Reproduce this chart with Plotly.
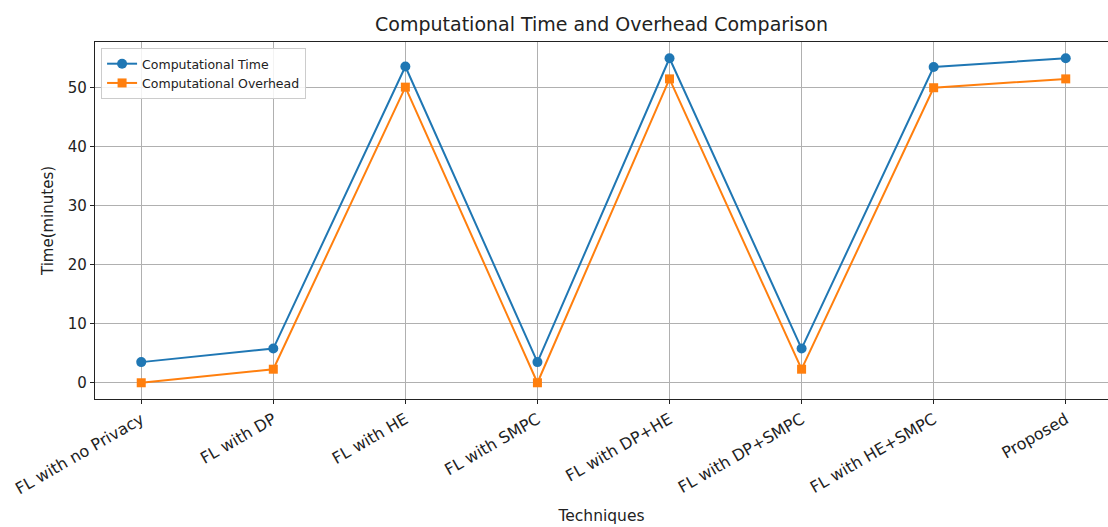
import plotly.graph_objects as go

techniques = ["FL with no Privacy", "FL with DP", "FL with HE", "FL with SMPC",
              "FL with DP+HE", "FL with DP+SMPC", "FL with HE+SMPC", "Proposed"]
comp_time = [3.5, 5.8, 53.6, 3.5, 55.0, 5.8, 53.5, 55.0]
comp_overhead = [0.0, 2.3, 50.1, 0.0, 51.5, 2.3, 50.0, 51.5]
y_ticks = [0, 10, 20, 30, 40, 50]

FONT = "DejaVu Sans"
TXT = "#222222"
x_idx = list(range(len(techniques)))

fig = go.Figure()
fig.add_trace(go.Scatter(
    x=x_idx, y=comp_time, mode="lines+markers", name="Computational Time",
    line=dict(color="#1f77b4", width=2),
    marker=dict(symbol="circle", size=10, color="#1f77b4"),
))
fig.add_trace(go.Scatter(
    x=x_idx, y=comp_overhead, mode="lines+markers", name="Computational Overhead",
    line=dict(color="#ff7f0e", width=2),
    marker=dict(symbol="square", size=9, color="#ff7f0e"),
))

fig.update_layout(
    width=1108, height=527,
    margin=dict(l=95, r=0, t=42, b=128),
    paper_bgcolor="white", plot_bgcolor="white",
    font=dict(family=FONT, color=TXT, size=15),
    title=dict(text="Computational Time and Overhead Comparison",
               xref="paper", x=0.5, xanchor="center", y=0.953, yanchor="middle",
               font=dict(size=19, family=FONT, color=TXT)),
    legend=dict(x=0.006, y=0.983, xanchor="left", yanchor="top",
                bgcolor="rgba(255,255,255,0.85)", bordercolor="#cccccc", borderwidth=1,
                font=dict(size=12.5, family=FONT, color=TXT),
                tracegroupgap=0, itemwidth=30),
    showlegend=True,
)

fig.update_xaxes(
    range=[-0.35, 7.32],
    tickmode="array", tickvals=x_idx, ticktext=techniques,
    tickangle=-30, ticks="outside", ticklen=4, tickcolor=TXT,
    showgrid=True, gridcolor="#b0b0b0", gridwidth=1,
    showline=True, linecolor=TXT, linewidth=1.2, mirror=True,
    zeroline=False,
    tickfont=dict(size=16, family=FONT, color=TXT),
    title=dict(text="Techniques", font=dict(size=15.5, family=FONT, color=TXT), standoff=12),
)
fig.update_yaxes(
    range=[-2.75, 57.75],
    tickmode="array", tickvals=y_ticks,
    ticks="outside", ticklen=4, tickcolor=TXT,
    showgrid=True, gridcolor="#b0b0b0", gridwidth=1,
    showline=True, linecolor=TXT, linewidth=1.2,
    zeroline=False,
    tickfont=dict(size=15, family=FONT, color=TXT),
    title=dict(text="Time(minutes)", font=dict(size=15, family=FONT, color=TXT), standoff=10),
)

fig.write_html("out.html")
